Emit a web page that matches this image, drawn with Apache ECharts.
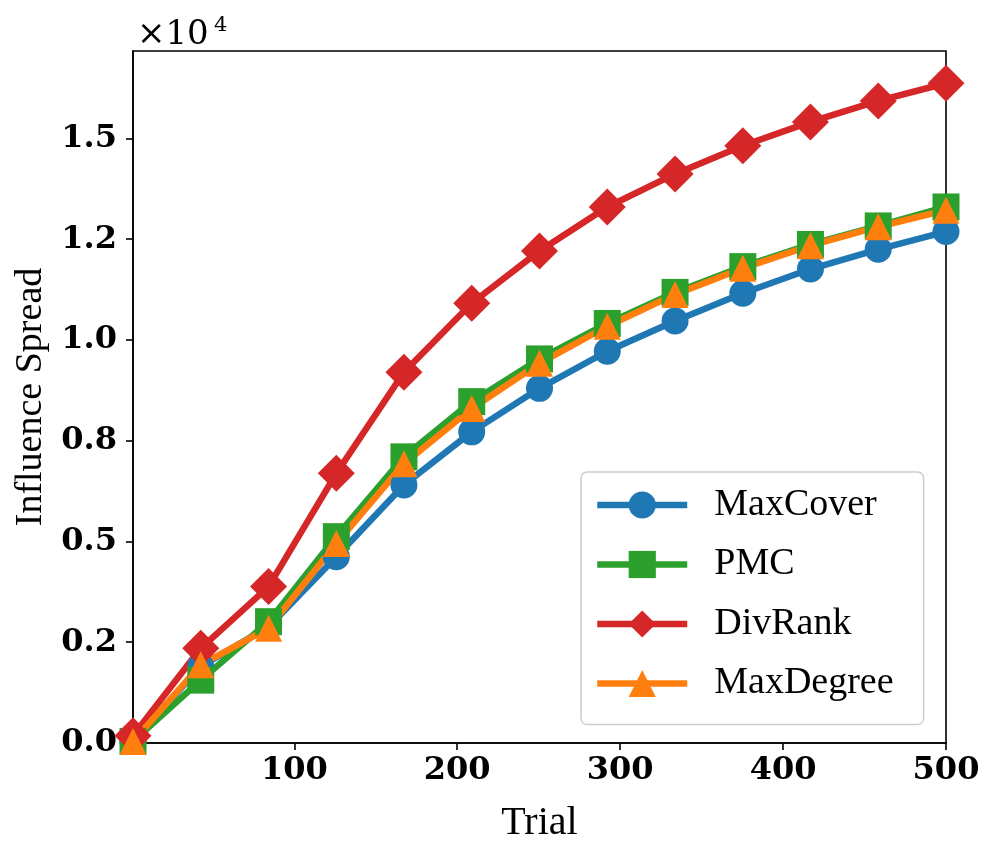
<!DOCTYPE html>
<html lang="en">
<head>
  <meta charset="UTF-8" />
  <title>Influence Spread vs Trial</title>
  <script src="https://cdn.jsdelivr.net/npm/echarts@6/dist/echarts.min.js"></script>
  <style>
    body { margin: 0; background: #fff; }
    #chart { width: 997px; height: 860px; }
  </style>
</head>
<body>
  <div id="chart"></div>
  <script>
    // values
    const trials = [1, 42.6, 84.2, 125.8, 167.3, 208.9, 250.5, 292.1, 333.7, 375.3, 416.8, 458.4, 500];
    const maxCover = [40, 1900, 2880, 4620, 6400, 7720, 8800, 9720, 10470, 11160, 11760, 12250, 12690];
    const pmc = [40, 1560, 3010, 5120, 7100, 8470, 9530, 10410, 11180, 11820, 12370, 12830, 13300];
    const divRank = [180, 2350, 3880, 6690, 9200, 10910, 12210, 13300, 14120, 14820, 15410, 15930, 16370];
    const maxDegree = [40, 1940, 2850, 4950, 6930, 8300, 9420, 10340, 11130, 11780, 12340, 12810, 13220];

    const xTicks = [100, 200, 300, 400, 500];
    const yTicks = [0, 2500, 5000, 7500, 10000, 12500, 15000];
    const yTickLabels = ['0.0', '0.2', '0.5', '0.8', '1.0', '1.2', '1.5'];

    const tickFont = { fontFamily: 'DejaVu Serif', fontWeight: 'bold', fontSize: 32, color: '#000' };
    const nameFont = { fontFamily: 'Liberation Serif', fontSize: 38, color: '#000' };

    function makeSeries(name, values, color, symbol, size) {
      return {
        name: name,
        type: 'line',
        data: trials.map((t, i) => [t, values[i]]),
        symbol: symbol,
        symbolSize: size,
        showAllSymbol: true,
        lineStyle: { color: color, width: 6.5 },
        itemStyle: { color: color },
        emphasis: { disabled: true }
      };
    }

    const chart = echarts.init(document.getElementById('chart'));
    chart.setOption({
      animation: false,
      grid: {
        left: 133, right: 51, top: 51, bottom: 117,
        show: true, borderColor: '#000', borderWidth: 1.6, backgroundColor: 'transparent'
      },
      xAxis: {
        type: 'value', min: 1, max: 500,
        name: 'Trial', nameLocation: 'middle', nameGap: 60,
        nameTextStyle: Object.assign({}, nameFont, { fontSize: 40 }),
        splitLine: { show: false },
        axisLine: { lineStyle: { color: '#000', width: 1.6 } },
        axisTick: { customValues: xTicks, length: 7, lineStyle: { color: '#000', width: 1.6 } },
        axisLabel: Object.assign({ customValues: xTicks, margin: 12 }, tickFont)
      },
      yAxis: {
        type: 'value', min: 0, max: 17170,
        name: 'Influence Spread', nameLocation: 'middle', nameGap: 80, nameTextStyle: nameFont,
        splitLine: { show: false },
        axisLine: { show: true, lineStyle: { color: '#000', width: 1.6 } },
        axisTick: { show: true, customValues: yTicks, length: 7, lineStyle: { color: '#000', width: 1.6 } },
        axisLabel: Object.assign({
          customValues: yTicks, margin: 16,
          formatter: v => yTickLabels[yTicks.indexOf(v)]
        }, tickFont)
      },
      legend: {
        orient: 'vertical',
        left: 581, top: 472,
        itemWidth: 90, itemHeight: 34, itemGap: 21.5,
        padding: [14, 30, 22, 13],
        backgroundColor: 'rgba(255,255,255,0.85)',
        borderColor: '#cccccc', borderWidth: 1.5, borderRadius: 6,
        lineStyle: { width: 6.5 },
        textStyle: Object.assign({ lineHeight: 34, padding: [0, 0, 0, 22] }, nameFont),
        data: ['MaxCover', 'PMC', 'DivRank', 'MaxDegree']
      },
      graphic: [
        { type: 'text', left: 137, top: 18, style: { text: '×10', font: '34px "DejaVu Serif"', fill: '#000' } },
        { type: 'text', left: 214, top: 15, style: { text: '4', font: '21px "DejaVu Serif"', fill: '#000' } }
      ],
      series: [
        makeSeries('MaxCover', maxCover, '#1f77b4', 'circle', 27),
        makeSeries('PMC', pmc, '#2ca02c', 'rect', 27),
        makeSeries('DivRank', divRank, '#d62728', 'diamond', 37),
        makeSeries('MaxDegree', maxDegree, '#ff7f0e', 'triangle', 27)
      ]
    });
  </script>
</body>
</html>
